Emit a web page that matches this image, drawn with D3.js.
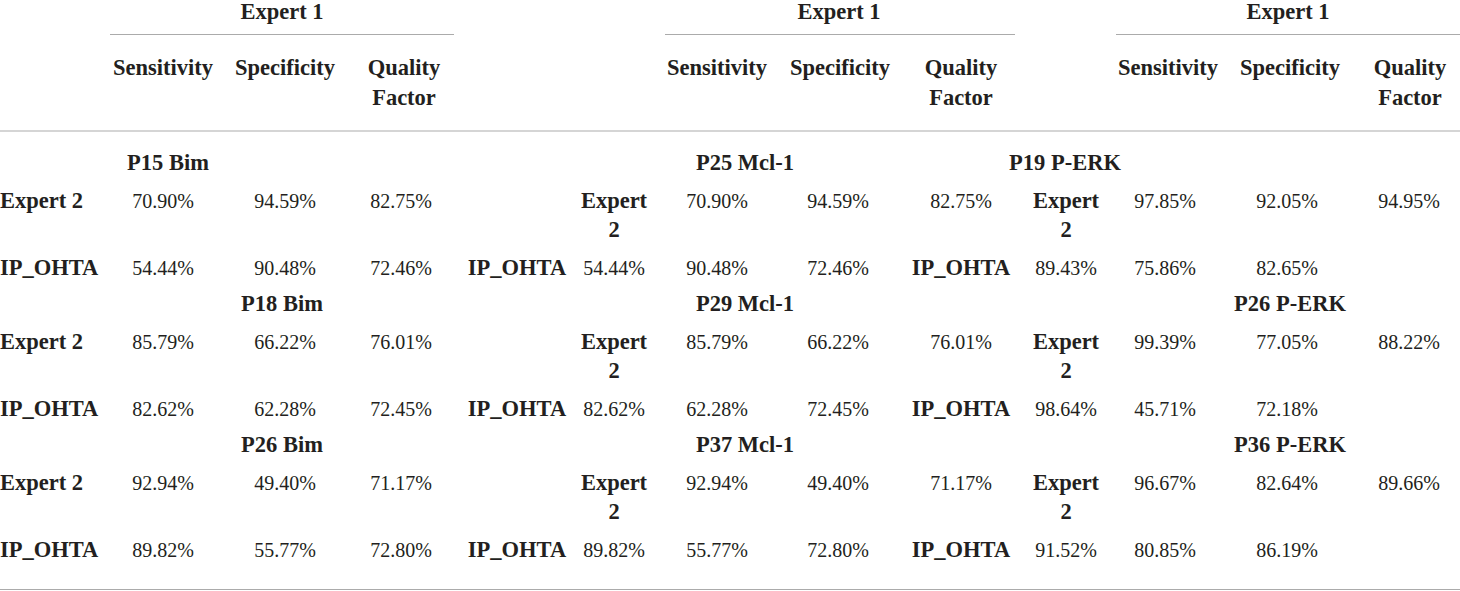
<!DOCTYPE html>
<html>
<head>
<meta charset="utf-8">
<script src="https://cdn.jsdelivr.net/npm/d3@7"></script>
<style>
  body { margin: 0; background: #fff; }
  text { font-family: "Liberation Serif", "Times New Roman", serif; fill: #231f20; }
  .bold { font-weight: bold; font-size: 22.5px; }
  .val { font-size: 20px; }
</style>
</head>
<body>
<div id="table"></div>
<script>
const groupTitle = "Expert 1";
const metrics = ["Sensitivity", "Specificity", "Quality Factor"];
const raters = ["Expert 2", "IP_OHTA"];
const samples = [
    ["P15 Bim", "P18 Bim", "P26 Bim"],
    ["P25 Mcl-1", "P29 Mcl-1", "P37 Mcl-1"],
    ["P19 P-ERK", "P26 P-ERK", "P36 P-ERK"]
];
// values per panel -> sample -> [Expert 2 row, IP_OHTA row]
const bimValues = [
    [["70.90%", "94.59%", "82.75%"], ["54.44%", "90.48%", "72.46%"]],
    [["85.79%", "66.22%", "76.01%"], ["82.62%", "62.28%", "72.45%"]],
    [["92.94%", "49.40%", "71.17%"], ["89.82%", "55.77%", "72.80%"]]
];
const mclValues = [
    [["70.90%", "94.59%", "82.75%"], ["54.44%", "90.48%", "72.46%"]],
    [["85.79%", "66.22%", "76.01%"], ["82.62%", "62.28%", "72.45%"]],
    [["92.94%", "49.40%", "71.17%"], ["89.82%", "55.77%", "72.80%"]]
];
const perkValues = [
    [["97.85%", "92.05%", "94.95%"], ["89.43%", "75.86%", "82.65%"]],
    [["99.39%", "77.05%", "88.22%"], ["98.64%", "45.71%", "72.18%"]],
    [["96.67%", "82.64%", "89.66%"], ["91.52%", "80.85%", "86.19%"]]
];
const panelValues = [bimValues, mclValues, perkValues];

const width = 1460, height = 591;

// layout of each panel: column slot centres, header spans, label placement
const panels = [
    { rule: [110, 454], title: 282, heads: [163, 285, 404],
      expert: { label: 0, anchor: "start", wrap: false, vals: [163, 285, 401] },
      ip: { label: 0, anchor: "start", vals: [163, 285, 401] },
      sampleX: [168, 282, 282] },
    { rule: [665, 1015], title: 839, heads: [717, 840, 961],
      expert: { label: 614, anchor: "middle", wrap: true, vals: [717, 838, 961] },
      ip: { label: 517, anchor: "middle", vals: [614, 717, 838] },
      sampleX: [745, 745, 745] },
    { rule: [1116, 1460], title: 1288, heads: [1168, 1290, 1410],
      expert: { label: 1066, anchor: "middle", wrap: true, vals: [1165, 1287, 1409] },
      ip: { label: 961, anchor: "middle", vals: [1066, 1165, 1287] },
      sampleX: [1065, 1290, 1290] }
];

const blockY = d3.scaleLinear().domain([0, 1]).range([170, 311]);
const rowOffset = d3.scaleOrdinal().domain(["sample", "Expert 2", "IP_OHTA"]).range([0, 38, 105]);
const lineH = 29;

const svg = d3.select('#table').append('svg')
    .attr('width', width)
    .attr('height', height);

// rules
const rules = svg.append('g').attr('stroke', '#ababab').attr('stroke-width', 1.2);
panels.forEach(p => {
    rules.append('line').attr('x1', p.rule[0]).attr('x2', p.rule[1]).attr('y1', 34.5).attr('y2', 34.5);
});
rules.append('line').attr('x1', 0).attr('x2', width).attr('y1', 131).attr('y2', 131);
rules.append('line').attr('x1', 0).attr('x2', width).attr('y1', 589.5).attr('y2', 589.5);

// headers
panels.forEach(p => {
    svg.append('text').attr('class', 'bold').attr('text-anchor', 'middle')
        .attr('x', p.title).attr('y', 19).text(groupTitle);
    metrics.forEach((m, i) => {
        const words = m.split(' ');
        const t = svg.append('text').attr('class', 'bold').attr('text-anchor', 'middle')
            .attr('x', p.heads[i]).attr('y', 75);
        words.forEach((w, k) => {
            t.append('tspan').attr('x', p.heads[i]).attr('dy', k === 0 ? 0 : 30).text(w);
        });
    });
});

// body
panels.forEach((p, pi) => {
    samples[pi].forEach((s, si) => {
        const y0 = blockY(si);
        svg.append('text').attr('class', 'bold').attr('text-anchor', 'middle')
            .attr('x', p.sampleX[si]).attr('y', y0 + rowOffset('sample')).text(s);

        raters.forEach((r, ri) => {
            const spec = ri === 0 ? p.expert : p.ip;
            const y = y0 + rowOffset(r);
            const lab = svg.append('text').attr('class', 'bold')
                .attr('text-anchor', spec.anchor)
                .attr('x', spec.label).attr('y', y);
            if (spec.wrap) {
                r.split(' ').forEach((w, k) => {
                    lab.append('tspan').attr('x', spec.label).attr('dy', k === 0 ? 0 : lineH).text(w);
                });
            } else {
                lab.text(r);
            }
            svg.append('g').selectAll('text')
                .data(panelValues[pi][si][ri])
                .join('text')
                .attr('class', 'val')
                .attr('text-anchor', 'middle')
                .attr('x', (d, i) => spec.vals[i])
                .attr('y', y)
                .text(d => d);
        });
    });
});
</script>
</body>
</html>
